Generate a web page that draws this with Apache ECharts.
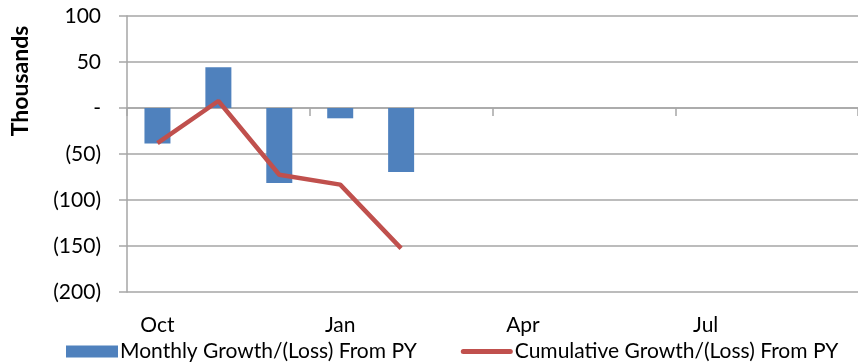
<!DOCTYPE html>
<html>
<head>
<meta charset="utf-8">
<script src="https://cdn.jsdelivr.net/npm/echarts@6/dist/echarts.min.js"></script>
<style>
html, body { margin: 0; padding: 0; background: #fff; }
#main { width: 858px; height: 364px; }
</style>
</head>
<body>
<div id="main"></div>
<script>
// months of the fiscal year, Oct..Sep
const months = ['Oct', 'Nov', 'Dec', 'Jan', 'Feb', 'Mar', 'Apr', 'May', 'Jun', 'Jul', 'Aug', 'Sep']
// thousands
const monthly = [-38.6, 44.4, -81.5, -11.2, -69.6, null, null, null, null, null, null, null]
const cumulative = [-38.2, 7.6, -72.5, -83.3, -152.6, null, null, null, null, null, null, null]
const yTicks = [-200, -150, -100, -50, 0, 50, 100]

const font = 'Lato'
const grey = '#a6a6a6'

const fmt = (v) => {
	if (v === 0) return '-'
	if (v < 0) return '(' + (-v) + ')'
	return '' + v
}

var myChart = echarts.init(document.getElementById('main'))
var option = {
	animation: false,
	textStyle: { fontFamily: font },
	grid: { left: 127, right: 0, top: 16, bottom: 72 },
	legend: {
		left: 61,
		top: 336,
		itemWidth: 52,
		itemHeight: 12,
		itemGap: 44,
		textStyle: { fontSize: 21, color: '#000', fontFamily: font, padding: [0, 0, 0, -3] },
		data: [
			{ name: 'Monthly Growth/(Loss) From PY', icon: 'rect' },
			{ name: 'Cumulative Growth/(Loss) From PY', icon: 'path://M2.5,0 H49.5 A2.5,2.5 0 0 1 49.5,5 H2.5 A2.5,2.5 0 0 1 2.5,0 Z' }
		]
	},
	graphic: [{
		type: 'text',
		x: 21,
		y: 81,
		rotation: Math.PI / 2,
		style: {
			text: 'Thousands',
			font: 'bold 23px ' + font,
			fill: '#000',
			align: 'center',
			verticalAlign: 'middle'
		}
	}],
	xAxis: [{
		// axis drawn at zero, ticks only
		type: 'category',
		data: months,
		axisLine: { onZero: true, lineStyle: { color: grey, width: 1.5 } },
		axisTick: { show: true, interval: 2, length: 8, lineStyle: { color: grey, width: 1.5 } },
		axisLabel: { show: false }
	}, {
		// labels at the bottom
		type: 'category',
		data: months,
		position: 'bottom',
		axisLine: { show: false, onZero: false },
		axisTick: { show: false },
		axisLabel: { interval: 2, margin: 23, fontSize: 21, color: '#000', fontFamily: font }
	}],
	yAxis: {
		type: 'value',
		min: yTicks[0],
		max: yTicks[yTicks.length - 1],
		interval: 50,
		axisLine: { show: true, lineStyle: { color: grey, width: 1.5 } },
		axisTick: { show: true, length: 8, lineStyle: { color: grey, width: 1.5 } },
		axisLabel: { formatter: fmt, margin: 26, fontSize: 21, color: '#000', fontFamily: font },
		splitLine: { lineStyle: { color: grey, width: 1.5 } }
	},
	series: [{
		name: 'Monthly Growth/(Loss) From PY',
		type: 'bar',
		xAxisIndex: 0,
		data: monthly,
		barWidth: 26,
		itemStyle: { color: '#4f81bd' }
	}, {
		name: 'Cumulative Growth/(Loss) From PY',
		type: 'line',
		xAxisIndex: 0,
		data: cumulative,
		symbol: 'none',
		lineStyle: { color: '#c0504d', width: 4.5 },
		itemStyle: { color: '#c0504d' }
	}]
}
myChart.setOption(option)
</script>
</body>
</html>
